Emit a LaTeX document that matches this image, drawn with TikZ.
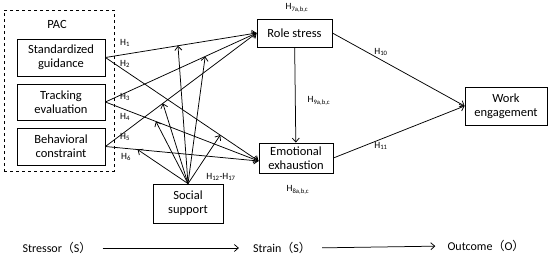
\documentclass[tikz,border=0pt]{standalone}
\usepackage{fontspec}
\setmainfont{Carlito}
\newfontfamily\cjk{Noto Sans CJK SC}
\usetikzlibrary{arrows.meta}
\begin{document}
\begin{tikzpicture}[x=1pt,y=-1pt,
  box/.style={draw,line width=0.8pt,align=center,inner sep=1pt,font=\fontsize{12.5}{14}\selectfont},
  arr/.style={line width=0.75pt,-{Straight Barb[length=4pt,width=7pt]}},
  hl/.style={font=\fontsize{9.5}{11}\selectfont,inner sep=0pt},
  bt/.style={font=\fontsize{12}{14}\selectfont,inner sep=1pt}]
\useasboundingbox (0,0) rectangle (550,260);
% PAC group
\node[draw,dashed,line width=0.7pt,minimum width=110,minimum height=161,inner sep=0pt] (pac) at (59,90.5) {};
\node[box,draw=none] (paclbl) at (57,24) {PAC};
\node[box,minimum width=88,minimum height=37] (sg) at (61,57.5) {Standardized\\guidance};
\node[box,minimum width=88,minimum height=36] (te) at (61,102) {Tracking\\evaluation};
\node[box,minimum width=88,minimum height=37] (bc) at (61,146.5) {Behavioral\\constraint};
\node[box,minimum width=70,minimum height=39] (ss) at (188,203.5) {Social\\support};
\node[box,minimum width=75,minimum height=28] (rs) at (294.5,33) {Role stress};
\node[box,minimum width=74,minimum height=30] (ee) at (296,158) {Emotional\\exhaustion};
\node[box,minimum width=82,minimum height=38] (we) at (506,106) {Work\\engagement};
\coordinate (eein) at (258.5,161);
% main paths
\draw[arr] (sg.east) -- coordinate[pos=0.48] (m1) (rs.west);
\draw[arr] (sg.east) -- coordinate[pos=0.75] (m2) (eein);
\draw[arr] (te.east) -- coordinate[pos=0.66] (m3) (rs.west);
\draw[arr] (te.east) -- coordinate[pos=0.33] (m4) (eein);
\draw[arr] (bc.east) -- coordinate[pos=0.38] (m5) (rs.west);
\draw[arr] (bc.east) -- coordinate[pos=0.21] (m6) (eein);
% moderation
\foreach \m in {m1,m2,m3,m4,m5,m6} \draw[arr] (ss.north) -- (\m);
\draw[arr] (rs) -- (ee);
\draw[arr] (rs.east) -- (we.west);
\draw[arr] (ee.east) -- (we.west);
% labels
\node[hl] (h1) at (125,43) {H\textsubscript{1}};
\node[hl] (h2) at (125,64) {H\textsubscript{2}};
\node[hl] (h3) at (125,97) {H\textsubscript{3}};
\node[hl] (h4) at (125,117) {H\textsubscript{4}};
\node[hl] (h5) at (125,137) {H\textsubscript{5}};
\node[hl] (h6) at (126,157) {H\textsubscript{6}};
\node[hl] (h1217) at (221,177) {H\textsubscript{12}-H\textsubscript{17}};
\node[hl] (h7) at (297,8) {H\textsubscript{7a,b,c}};
\node[hl] (h8) at (298,190) {H\textsubscript{8a,b,c}};
\node[hl] (h9) at (319,101) {H\textsubscript{9a,b,c}};
\node[hl] (h10) at (381,52) {H\textsubscript{10}};
\node[hl] (h11) at (381,146) {H\textsubscript{11}};
% bottom row
\node[bt] (st) at (57,248) {Stressor{\cjk（}S{\cjk）}};
\node[bt] (sn) at (282,248) {Strain{\cjk（}S{\cjk）}};
\node[bt] (oc) at (486,246) {Outcome{\cjk（}O{\cjk）}};
\draw[arr,shorten <=10pt,shorten >=13pt] (st.east) -- (sn.west);
\draw[arr,shorten <=10pt,shorten >=11pt] (sn.east) -- (oc.west);
\end{tikzpicture}
\end{document}
